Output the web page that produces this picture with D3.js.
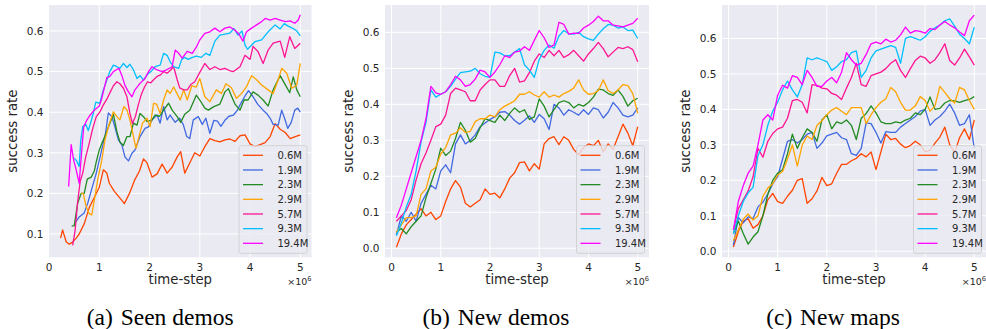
<!DOCTYPE html>
<html>
<head>
<meta charset="utf-8">
<script src="https://cdn.jsdelivr.net/npm/d3@7"></script>
<style>
  body { margin: 0; background: #fff; }
  svg { display: block; }
  text { font-family: "DejaVu Sans", sans-serif; fill: #262626; }
  .cap { font-family: "Liberation Serif", "Times New Roman", serif; fill: #000; }
</style>
</head>
<body>
<svg id="fig" width="986" height="329"></svg>
<script>
const labels = ["0.6M", "1.9M", "2.3M", "2.9M", "5.7M", "9.3M", "19.4M"];
const colors = ["orangered", "royalblue", "forestgreen", "orange", "deeppink", "deepskyblue", "magenta"];
const xTicks = [0, 1, 2, 3, 4, 5];
const yTicksSeen = [0.1, 0.2, 0.3, 0.4, 0.5, 0.6];
const yTicksNew = [0.0, 0.1, 0.2, 0.3, 0.4, 0.5, 0.6];
const captionLabels = ["(a)", "(b)", "(c)"];
const captionTexts = ["Seen demos", "New demos", "New maps"];

// (a) seen demos, [time-step in 1e6, success rate]
const seen06 = [[0.23,0.09],[0.27,0.11],[0.34,0.081],[0.4,0.075],[0.47,0.08],[0.54,0.09],[0.6,0.1],[0.7,0.125],[0.8,0.165],[0.9,0.19],[1.0,0.215],[1.08,0.258],[1.15,0.25],[1.2,0.225],[1.3,0.205],[1.4,0.19],[1.5,0.175],[1.6,0.2],[1.7,0.232],[1.8,0.255],[1.88,0.285],[1.95,0.275],[2.05,0.24],[2.15,0.248],[2.25,0.272],[2.35,0.25],[2.45,0.265],[2.55,0.29],[2.62,0.303],[2.7,0.25],[2.8,0.275],[2.9,0.3],[3.0,0.292],[3.1,0.315],[3.2,0.335],[3.3,0.33],[3.4,0.327],[3.5,0.332],[3.6,0.334],[3.7,0.328],[3.8,0.342],[3.9,0.344],[4.0,0.322],[4.1,0.315],[4.2,0.32],[4.3,0.325],[4.4,0.34],[4.5,0.372],[4.6,0.358],[4.7,0.35],[4.8,0.335],[4.9,0.34],[5.0,0.344]];
const seen19 = [[0.52,0.128],[0.6,0.142],[0.7,0.152],[0.77,0.176],[0.84,0.207],[0.94,0.25],[1.04,0.303],[1.12,0.345],[1.18,0.398],[1.25,0.389],[1.31,0.364],[1.38,0.332],[1.45,0.319],[1.51,0.29],[1.58,0.28],[1.65,0.299],[1.71,0.307],[1.81,0.34],[1.91,0.36],[1.98,0.364],[2.05,0.381],[2.15,0.393],[2.21,0.373],[2.28,0.414],[2.35,0.381],[2.41,0.393],[2.51,0.375],[2.6,0.385],[2.67,0.37],[2.74,0.34],[2.8,0.335],[2.87,0.381],[2.97,0.389],[3.05,0.37],[3.12,0.385],[3.2,0.348],[3.28,0.38],[3.35,0.378],[3.42,0.365],[3.5,0.38],[3.58,0.39],[3.67,0.393],[3.75,0.405],[3.8,0.418],[3.9,0.44],[3.97,0.453],[4.06,0.438],[4.15,0.42],[4.26,0.405],[4.33,0.397],[4.4,0.385],[4.46,0.37],[4.56,0.368],[4.63,0.405],[4.7,0.38],[4.75,0.36],[4.82,0.375],[4.89,0.405],[4.95,0.41],[5.0,0.4]];
const seen23 = [[0.45,0.12],[0.5,0.12],[0.57,0.176],[0.64,0.2],[0.7,0.2],[0.76,0.235],[0.84,0.24],[0.9,0.255],[0.94,0.278],[1.0,0.307],[1.05,0.323],[1.11,0.34],[1.21,0.373],[1.28,0.395],[1.35,0.352],[1.41,0.327],[1.48,0.318],[1.55,0.34],[1.61,0.34],[1.68,0.373],[1.75,0.368],[1.81,0.397],[1.88,0.389],[1.95,0.377],[2.05,0.381],[2.11,0.393],[2.2,0.39],[2.28,0.405],[2.38,0.422],[2.45,0.405],[2.55,0.389],[2.62,0.375],[2.7,0.395],[2.8,0.405],[2.93,0.442],[3.0,0.43],[3.1,0.41],[3.17,0.405],[3.27,0.413],[3.4,0.42],[3.5,0.45],[3.57,0.458],[3.63,0.44],[3.7,0.42],[3.8,0.405],[3.88,0.43],[3.96,0.43],[4.06,0.45],[4.16,0.442],[4.26,0.43],[4.36,0.415],[4.46,0.455],[4.6,0.49],[4.7,0.468],[4.79,0.448],[4.86,0.487],[4.93,0.455],[5.0,0.438]];
const seen29 = [[0.64,0.2],[0.68,0.2],[0.74,0.167],[0.8,0.15],[0.85,0.147],[0.91,0.19],[0.97,0.235],[1.05,0.282],[1.11,0.33],[1.18,0.364],[1.28,0.401],[1.35,0.389],[1.41,0.381],[1.49,0.414],[1.55,0.405],[1.61,0.381],[1.68,0.34],[1.73,0.311],[1.79,0.34],[1.86,0.373],[1.95,0.385],[2.01,0.364],[2.08,0.422],[2.14,0.42],[2.21,0.397],[2.28,0.43],[2.35,0.455],[2.41,0.446],[2.48,0.462],[2.55,0.445],[2.61,0.43],[2.68,0.455],[2.75,0.43],[2.84,0.465],[2.93,0.462],[3.0,0.483],[3.1,0.438],[3.2,0.426],[3.33,0.455],[3.43,0.446],[3.52,0.47],[3.63,0.46],[3.73,0.434],[3.83,0.446],[3.93,0.463],[4.03,0.49],[4.13,0.48],[4.23,0.467],[4.36,0.455],[4.46,0.446],[4.56,0.48],[4.63,0.508],[4.73,0.496],[4.83,0.459],[4.93,0.467],[5.0,0.52]];
const seen57 = [[0.47,0.072],[0.52,0.11],[0.57,0.18],[0.62,0.23],[0.67,0.25],[0.73,0.29],[0.8,0.324],[0.87,0.36],[0.94,0.389],[1.01,0.4],[1.08,0.418],[1.15,0.432],[1.22,0.45],[1.28,0.465],[1.35,0.475],[1.41,0.47],[1.48,0.459],[1.55,0.438],[1.61,0.397],[1.66,0.372],[1.72,0.39],[1.78,0.42],[1.84,0.445],[1.9,0.462],[1.96,0.475],[2.02,0.472],[2.08,0.48],[2.15,0.488],[2.22,0.492],[2.28,0.5],[2.35,0.496],[2.42,0.504],[2.48,0.512],[2.55,0.48],[2.6,0.46],[2.68,0.455],[2.75,0.455],[2.82,0.468],[2.9,0.475],[3.0,0.498],[3.1,0.52],[3.2,0.505],[3.3,0.512],[3.4,0.505],[3.5,0.508],[3.6,0.502],[3.67,0.5],[3.8,0.512],[3.9,0.54],[4.0,0.53],[4.06,0.562],[4.16,0.549],[4.26,0.52],[4.36,0.553],[4.46,0.57],[4.6,0.575],[4.69,0.535],[4.79,0.586],[4.89,0.557],[5.0,0.57]];
const seen93 = [[0.5,0.287],[0.55,0.28],[0.6,0.266],[0.63,0.33],[0.67,0.364],[0.73,0.37],[0.78,0.355],[0.83,0.375],[0.88,0.397],[0.93,0.425],[1.01,0.422],[1.08,0.455],[1.15,0.479],[1.21,0.5],[1.28,0.516],[1.35,0.512],[1.41,0.508],[1.48,0.52],[1.55,0.51],[1.61,0.518],[1.68,0.504],[1.75,0.483],[1.81,0.49],[1.88,0.479],[1.95,0.492],[2.03,0.5],[2.11,0.512],[2.21,0.516],[2.28,0.545],[2.35,0.54],[2.41,0.524],[2.48,0.512],[2.58,0.508],[2.64,0.53],[2.7,0.535],[2.77,0.53],[2.85,0.535],[2.93,0.538],[3.03,0.535],[3.12,0.545],[3.2,0.54],[3.3,0.575],[3.4,0.59],[3.5,0.592],[3.6,0.595],[3.68,0.606],[3.76,0.59],[3.84,0.6],[3.9,0.565],[3.95,0.555],[4.03,0.565],[4.1,0.574],[4.23,0.578],[4.36,0.598],[4.5,0.615],[4.6,0.605],[4.68,0.618],[4.76,0.612],[4.86,0.606],[4.93,0.6],[5.0,0.588]];
const seen194 = [[0.39,0.217],[0.44,0.32],[0.49,0.282],[0.54,0.258],[0.6,0.225],[0.65,0.305],[0.69,0.364],[0.75,0.38],[0.8,0.39],[0.9,0.405],[1.0,0.415],[1.04,0.43],[1.1,0.46],[1.15,0.485],[1.21,0.488],[1.28,0.5],[1.35,0.505],[1.39,0.508],[1.45,0.49],[1.51,0.466],[1.58,0.45],[1.65,0.438],[1.71,0.455],[1.81,0.471],[1.91,0.483],[1.98,0.5],[2.05,0.512],[2.15,0.504],[2.25,0.5],[2.35,0.505],[2.45,0.512],[2.51,0.553],[2.58,0.545],[2.65,0.533],[2.75,0.55],[2.85,0.545],[2.93,0.56],[3.0,0.578],[3.1,0.594],[3.2,0.598],[3.3,0.607],[3.4,0.598],[3.5,0.607],[3.6,0.61],[3.7,0.602],[3.77,0.594],[3.86,0.575],[3.93,0.598],[4.03,0.607],[4.13,0.615],[4.23,0.623],[4.3,0.631],[4.4,0.627],[4.5,0.631],[4.6,0.627],[4.7,0.623],[4.8,0.625],[4.89,0.619],[4.96,0.627],[5.0,0.64]];

// (b) and (c) are read every 0.1e6 steps, from 0.1e6 to 5e6
const stepsNew = d3.range(1, 51).map(i => i / 10);

const newDemos06 = [0.003,0.04,0.065,0.08,0.095,0.11,0.09,0.1,0.08,0.09, 0.13,0.165,0.188,0.17,0.125,0.115,0.125,0.135,0.165,0.15, 0.153,0.14,0.165,0.195,0.21,0.238,0.24,0.215,0.235,0.22, 0.29,0.305,0.31,0.288,0.31,0.3,0.275,0.26,0.28,0.29, 0.285,0.3,0.268,0.29,0.275,0.31,0.345,0.32,0.285,0.338];
const newDemos19 = [0.037,0.09,0.075,0.1,0.075,0.125,0.15,0.175,0.165,0.215, 0.232,0.21,0.29,0.315,0.29,0.3,0.315,0.338,0.348,0.358, 0.365,0.378,0.38,0.37,0.355,0.345,0.356,0.368,0.35,0.372, 0.36,0.33,0.4,0.39,0.37,0.385,0.378,0.37,0.385,0.372, 0.39,0.385,0.362,0.378,0.405,0.39,0.37,0.365,0.37,0.39];
const newDemos23 = [0.045,0.055,0.04,0.06,0.075,0.09,0.14,0.18,0.22,0.278, 0.258,0.27,0.305,0.35,0.328,0.295,0.305,0.335,0.36,0.355, 0.35,0.37,0.355,0.375,0.39,0.378,0.385,0.358,0.365,0.415, 0.395,0.365,0.385,0.405,0.41,0.405,0.39,0.4,0.395,0.405, 0.42,0.442,0.44,0.43,0.425,0.44,0.422,0.395,0.41,0.417];
const newDemos29 = [0.045,0.065,0.085,0.085,0.09,0.15,0.165,0.215,0.225,0.262, 0.28,0.315,0.32,0.335,0.322,0.325,0.352,0.36,0.36,0.37, 0.365,0.385,0.395,0.402,0.41,0.428,0.428,0.435,0.426,0.42, 0.435,0.42,0.426,0.42,0.43,0.436,0.445,0.468,0.44,0.428, 0.43,0.438,0.468,0.438,0.43,0.44,0.455,0.452,0.43,0.375];
const newDemos57 = [0.075,0.09,0.105,0.135,0.19,0.235,0.265,0.3,0.338,0.345, 0.37,0.43,0.445,0.44,0.435,0.41,0.41,0.44,0.455,0.468, 0.468,0.45,0.45,0.48,0.5,0.462,0.465,0.488,0.52,0.54, 0.53,0.55,0.535,0.55,0.53,0.538,0.55,0.535,0.52,0.54, 0.555,0.572,0.555,0.532,0.545,0.558,0.555,0.56,0.552,0.518];
const newDemos93 = [0.035,0.07,0.115,0.15,0.215,0.295,0.35,0.44,0.42,0.428, 0.435,0.45,0.47,0.488,0.49,0.492,0.5,0.485,0.478,0.475, 0.545,0.543,0.535,0.535,0.545,0.555,0.51,0.495,0.475,0.525, 0.55,0.565,0.556,0.59,0.605,0.596,0.595,0.6,0.588,0.582, 0.578,0.595,0.61,0.622,0.62,0.612,0.615,0.605,0.606,0.583];
const newDemos194 = [0.085,0.12,0.165,0.21,0.255,0.3,0.36,0.45,0.432,0.428, 0.435,0.455,0.478,0.468,0.45,0.455,0.47,0.495,0.49,0.475, 0.49,0.51,0.535,0.53,0.545,0.548,0.56,0.55,0.578,0.605, 0.585,0.558,0.565,0.628,0.622,0.595,0.598,0.597,0.612,0.62, 0.63,0.645,0.632,0.632,0.62,0.618,0.615,0.62,0.625,0.639];

const newMaps06 = [0.012,0.055,0.085,0.092,0.065,0.075,0.1,0.145,0.163,0.14, 0.135,0.155,0.172,0.2,0.205,0.135,0.148,0.17,0.208,0.185, 0.19,0.22,0.245,0.245,0.255,0.262,0.275,0.266,0.28,0.23, 0.28,0.33,0.315,0.318,0.302,0.292,0.298,0.31,0.3,0.28, 0.285,0.305,0.322,0.35,0.3,0.278,0.32,0.345,0.315,0.37];
const newMaps19 = [0.017,0.095,0.08,0.097,0.092,0.125,0.138,0.162,0.19,0.21, 0.26,0.31,0.315,0.305,0.315,0.33,0.335,0.29,0.305,0.325, 0.33,0.335,0.32,0.315,0.275,0.27,0.29,0.362,0.36,0.335, 0.305,0.337,0.335,0.335,0.35,0.36,0.37,0.38,0.395,0.4, 0.355,0.37,0.38,0.395,0.415,0.39,0.355,0.36,0.385,0.29];
const newMaps23 = [0.05,0.085,0.05,0.02,0.04,0.055,0.1,0.16,0.2,0.22, 0.23,0.275,0.33,0.29,0.32,0.345,0.335,0.31,0.37,0.385, 0.345,0.365,0.36,0.37,0.355,0.315,0.375,0.388,0.41,0.39, 0.365,0.36,0.36,0.365,0.362,0.37,0.375,0.39,0.385,0.4, 0.435,0.4,0.403,0.418,0.425,0.424,0.42,0.425,0.428,0.436];
const newMaps29 = [0.03,0.06,0.09,0.105,0.088,0.1,0.155,0.178,0.19,0.215, 0.225,0.26,0.3,0.24,0.3,0.325,0.315,0.355,0.368,0.385, 0.398,0.405,0.395,0.385,0.405,0.405,0.405,0.36,0.385,0.405, 0.42,0.43,0.462,0.45,0.42,0.398,0.398,0.41,0.436,0.425, 0.395,0.41,0.465,0.448,0.43,0.418,0.462,0.455,0.425,0.4];
const newMaps57 = [0.06,0.12,0.145,0.17,0.21,0.29,0.265,0.31,0.332,0.345, 0.35,0.375,0.425,0.428,0.42,0.39,0.47,0.468,0.46,0.458, 0.445,0.44,0.428,0.46,0.49,0.53,0.47,0.465,0.495,0.5, 0.505,0.515,0.53,0.54,0.51,0.49,0.515,0.538,0.55,0.545, 0.53,0.54,0.56,0.585,0.538,0.525,0.545,0.57,0.548,0.525];
const newMaps93 = [0.05,0.1,0.14,0.165,0.18,0.27,0.3,0.355,0.395,0.42, 0.455,0.48,0.455,0.435,0.47,0.545,0.54,0.545,0.54,0.535, 0.51,0.52,0.535,0.54,0.56,0.565,0.49,0.51,0.545,0.565, 0.57,0.575,0.58,0.575,0.53,0.6,0.605,0.6,0.595,0.605, 0.62,0.63,0.638,0.65,0.655,0.635,0.612,0.6,0.585,0.632];
const newMaps194 = [0.06,0.14,0.185,0.22,0.24,0.3,0.37,0.385,0.37,0.44, 0.468,0.46,0.495,0.49,0.47,0.51,0.49,0.465,0.465,0.48, 0.49,0.475,0.505,0.56,0.54,0.525,0.53,0.555,0.585,0.59, 0.585,0.598,0.59,0.595,0.61,0.632,0.615,0.622,0.62,0.615, 0.628,0.625,0.638,0.648,0.638,0.63,0.618,0.608,0.65,0.666];

const pairUp = vals => vals.map((v, i) => [stepsNew[i], v]);

const panels = [
  { series: [seen06, seen19, seen23, seen29, seen57, seen93, seen194],
    yTicks: yTicksSeen, left: 49, right: 311.5, x0: 49.05, xd: [0, 5.223], yd: [0.0426, 0.664],
    capMid: 99.7, capText: 120.7 },
  { series: [newDemos06, newDemos19, newDemos23, newDemos29, newDemos57, newDemos93, newDemos194].map(pairUp),
    yTicks: yTicksNew, left: 385, right: 649, x0: 385, xd: [-0.132, 5.229], yd: [-0.025, 0.676],
    capMid: 436.2, capText: 457.7 },
  { series: [newMaps06, newMaps19, newMaps23, newMaps29, newMaps57, newMaps93, newMaps194].map(pairUp),
    yTicks: yTicksNew, left: 722, right: 986, x0: 722, xd: [-0.132, 5.238], yd: [-0.0172, 0.6944],
    capMid: 779.3, capText: 800 }
];

const plotTop = 5, plotBottom = 257.3;
const svg = d3.select("#fig");

panels.forEach((p, k) => {
  const x = d3.scaleLinear().domain(p.xd).range([p.x0, p.right]);
  const y = d3.scaleLinear().domain(p.yd).range([plotBottom, plotTop]);
  const g = svg.append("g");

  g.append("rect")
      .attr("x", p.left).attr("y", plotTop)
      .attr("width", p.right - p.left).attr("height", plotBottom - plotTop)
      .attr("fill", "#eaeaf2");

  g.selectAll(".vg").data(xTicks.filter(d => x(d) > p.left + 0.5))
    .enter().append("line")
      .attr("x1", d => x(d)).attr("x2", d => x(d))
      .attr("y1", plotTop).attr("y2", plotBottom)
      .attr("stroke", "#fff").attr("stroke-width", 1);

  g.selectAll(".hg").data(p.yTicks)
    .enter().append("line")
      .attr("x1", p.left).attr("x2", p.right)
      .attr("y1", d => y(d)).attr("y2", d => y(d))
      .attr("stroke", "#fff").attr("stroke-width", 1);

  const line = d3.line().x(d => x(d[0])).y(d => y(d[1]));

  g.selectAll(".run").data(p.series)
    .enter().append("path")
      .attr("d", line)
      .attr("fill", "none")
      .attr("stroke", (d, i) => colors[i])
      .attr("stroke-width", 1.3)
      .attr("stroke-linejoin", "round");

  // tick labels
  g.selectAll(".xt").data(xTicks)
    .enter().append("text")
      .attr("x", d => x(d)).attr("y", 270.5)
      .attr("text-anchor", "middle")
      .attr("font-size", 10.5)
      .text(d => d);

  g.selectAll(".yt").data(p.yTicks)
    .enter().append("text")
      .attr("x", p.left - 5.5).attr("y", d => y(d) + 3.8)
      .attr("text-anchor", "end")
      .attr("font-size", 10.5)
      .text(d => d.toFixed(1));

  g.append("text")
      .attr("x", (p.left + p.right) / 2).attr("y", 284)
      .attr("text-anchor", "middle")
      .attr("font-size", 13.3)
      .text("time-step");

  g.append("text")
      .attr("transform", `translate(${p.left - 32},${(plotTop + plotBottom) / 2}) rotate(-90)`)
      .attr("text-anchor", "middle")
      .attr("font-size", 13.3)
      .text("success rate");

  const off = g.append("text")
      .attr("x", p.right).attr("y", 284.5)
      .attr("text-anchor", "end")
      .attr("font-size", 9.5);
  off.append("tspan").text("×10");
  off.append("tspan").attr("dy", -3.6).attr("font-size", 6.7).text("6");

  // legend
  const lw = 68, lh = 107.6;
  const lx = p.right - 4.5 - lw, ly = plotBottom - 4 - lh;
  const leg = g.append("g").attr("transform", `translate(${lx},${ly})`);
  leg.append("rect")
      .attr("width", lw).attr("height", lh)
      .attr("rx", 2.5)
      .attr("fill", "#eaeaf2").attr("fill-opacity", 0.8)
      .attr("stroke", "#cccccc").attr("stroke-width", 0.8);
  const row = leg.selectAll(".row").data(labels)
    .enter().append("g")
      .attr("transform", (d, i) => `translate(0,${9.6 + i * 14.67})`);
  row.append("line")
      .attr("x1", 4).attr("x2", 24)
      .attr("stroke", (d, i) => colors[i]).attr("stroke-width", 1.3);
  row.append("text")
      .attr("x", 38.4).attr("y", 3.6)
      .attr("font-size", 10)
      .text(d => d);

  // caption
  svg.append("text").attr("class", "cap")
      .attr("x", p.capMid).attr("y", 324.5)
      .attr("text-anchor", "middle")
      .attr("font-size", 23.5)
      .text(captionLabels[k]);
  svg.append("text").attr("class", "cap")
      .attr("x", p.capText).attr("y", 324.5)
      .attr("font-size", 23.5)
      .text(captionTexts[k]);
});
</script>
</body>
</html>
